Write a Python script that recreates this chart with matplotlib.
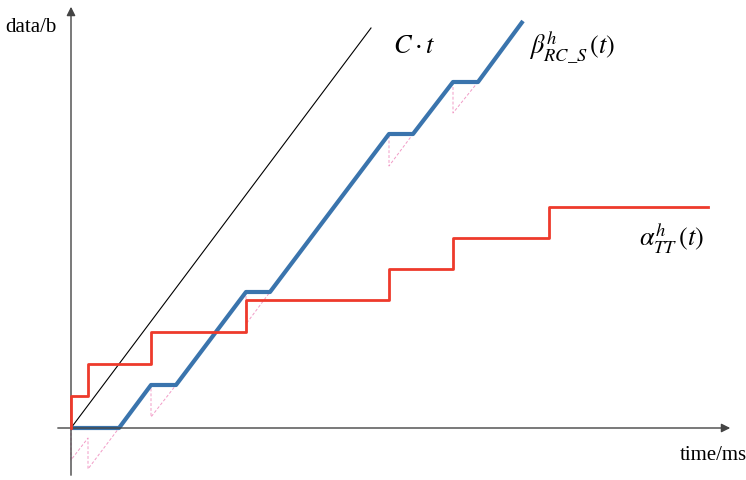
import matplotlib
matplotlib.use('Agg')
import matplotlib.pyplot as plt

plt.rcParams['mathtext.fontset'] = 'stix'
plt.rcParams['font.family'] = ['Liberation Serif', 'DejaVu Serif']

# curve vertices (time, data), origin at the axes cross
beta_t = [0, 48, 80, 105, 175, 199, 318, 342, 382, 407, 452]
beta_d = [0, 0, 43, 43, 136, 136, 294, 294, 346, 346, 407]

# un-clamped service curve (pink dashed sawtooth)
raw_t = [0, 0, 17, 17, 48, 80, 80, 105, 175, 175, 199, 318, 318, 342, 382, 382, 407, 452]
raw_d = [0, -32, -10, -41, 0, 43, 11, 43, 136, 104, 136, 294, 262, 294, 346, 315, 346, 407]

# arrival staircase
alpha_t = [0, 0, 17, 17, 80, 80, 175, 175, 318, 318, 382, 382, 478, 478, 637]
alpha_d = [0, 32, 32, 64, 64, 96, 96, 128, 128, 159, 159, 190, 190, 221, 221]

# link capacity line C*t
ct_t = [0, 300]
ct_d = [0, 400]

fig = plt.figure(figsize=(7.46, 4.8), dpi=100)
ax = fig.add_axes([0, 0, 1, 1])
ax.set_xlim(-71, 675)
ax.set_ylim(-52, 428)
ax.axis('off')

# axes with arrow heads
ax.annotate('', xy=(662, 0), xytext=(-16, 0),
            arrowprops=dict(arrowstyle='-|>', color='#444444', lw=1.0, mutation_scale=13))
ax.annotate('', xy=(0, 424), xytext=(0, -50),
            arrowprops=dict(arrowstyle='-|>', color='#444444', lw=1.0, mutation_scale=13))

ax.plot(ct_t, ct_d, color='black', lw=0.8)
ax.plot(raw_t, raw_d, color='#f090c0', lw=0.7, ls=(0, (3, 2)), alpha=0.9, zorder=1)
ax.plot(beta_t, beta_d, color='#3a74ad', lw=3.0, solid_capstyle='butt', zorder=2)
ax.plot(alpha_t, alpha_d, color='#ee3a2b', lw=2.0, zorder=3)

ax.text(-66, 400, 'data/b', fontsize=15, va='center', ha='left')
ax.text(609, -27, 'time/ms', fontsize=15, va='center', ha='left')
ax.text(322, 381, r'$C\cdot t$', fontsize=19, va='center', ha='left')
ax.text(458, 381, r'$\beta^{h}_{RC\_S}\,(t)$', fontsize=19, va='center', ha='left')
ax.text(568, 189, r'$\alpha^{h}_{TT}\,(t)$', fontsize=19, va='center', ha='left')

fig.savefig('out.png', dpi=100)
